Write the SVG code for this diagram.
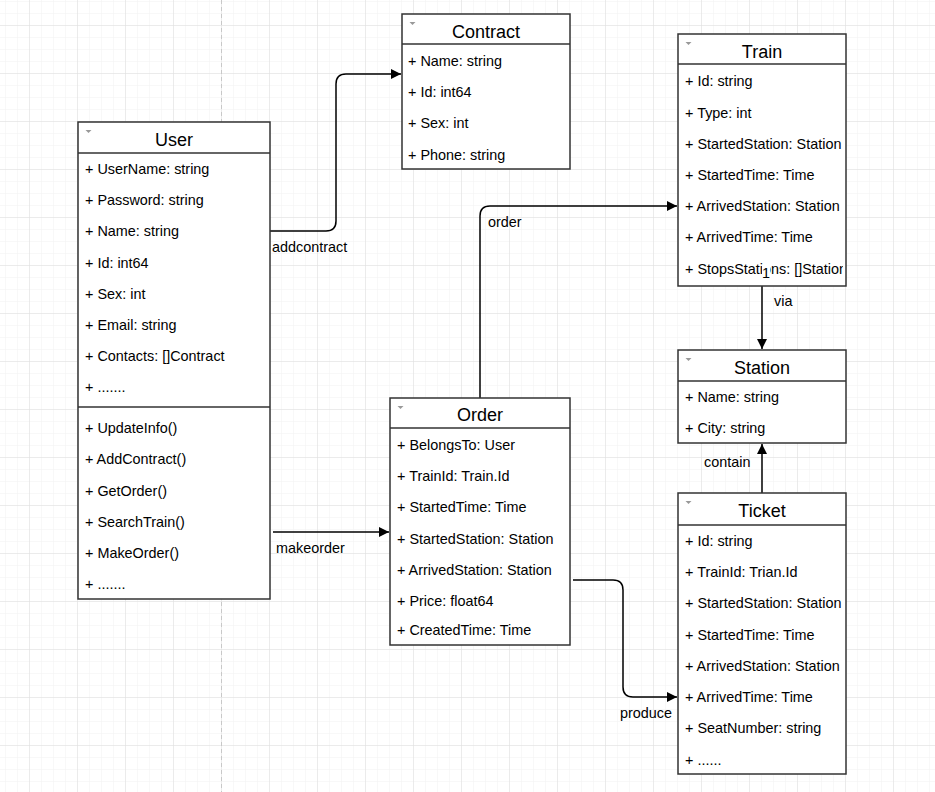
<svg xmlns="http://www.w3.org/2000/svg" width="935" height="792" viewBox="0 0 935 792">
<style>
.box{fill:#fff;stroke:#333;stroke-width:1.5}
.div{stroke:#333;stroke-width:1.5}
.title{font-family:"Liberation Sans",Arial,sans-serif;font-size:18px;fill:#000;text-anchor:middle}
.row{font-family:"Liberation Sans",Arial,sans-serif;font-size:14.4px;fill:#000}
.lbl{font-family:"Liberation Sans",Arial,sans-serif;font-size:14.4px;fill:#000}
.tri{fill:#999}
.edge{fill:none;stroke:#000;stroke-width:1.5}
</style>
<defs>
<pattern id="minor" x="5" y="1" width="12" height="12" patternUnits="userSpaceOnUse">
<path d="M0 0H12M0 0V12" fill="none" stroke="#f1f1f1" stroke-width="1"/>
</pattern>
<pattern id="major" x="29" y="25" width="48" height="48" patternUnits="userSpaceOnUse">
<path d="M0 0H48M0 0V48" fill="none" stroke="#dedede" stroke-width="1"/>
</pattern>
<marker id="arr" viewBox="0 0 10 10" refX="10" refY="5" markerWidth="11" markerHeight="10" markerUnits="userSpaceOnUse" orient="auto">
<path d="M0 0L10 5L0 10z" fill="#000"/>
</marker>
<clipPath id="trainClip"><rect x="678" y="64" width="165" height="222"/></clipPath>
</defs>
<rect width="935" height="792" fill="#fff"/>
<rect width="935" height="792" fill="url(#minor)"/>
<rect width="935" height="792" fill="url(#major)"/>
<line x1="221.5" y1="0" x2="221.5" y2="792" stroke="#c8c8c8" stroke-width="1" stroke-dasharray="4 3"/>

<g id="connectors">
<path class="edge" d="M270 231H326Q336 231 336 221V84Q336 74 346 74H401" marker-end="url(#arr)"/>
<path class="edge" d="M480 398V216Q480 206 490 206H677" marker-end="url(#arr)"/>
<path class="edge" d="M762 286V349" marker-end="url(#arr)"/>
<path class="edge" d="M762 493V444" marker-end="url(#arr)"/>
<path class="edge" d="M273 532H389" marker-end="url(#arr)"/>
<path class="edge" d="M573 580H613Q623 580 623 590V687Q623 697 633 697H677" marker-end="url(#arr)"/>
<text class="lbl" x="272" y="252">addcontract</text>
<text class="lbl" x="488" y="227">order</text>
<text class="lbl" x="774" y="306">via</text>
<text class="lbl" x="704" y="467">contain</text>
<text class="lbl" x="276" y="553">makeorder</text>
<text class="lbl" x="620" y="718">produce</text>
</g>

<g id="user">
<rect class="box" x="78" y="122" width="192" height="477"/>
<line class="div" x1="78" y1="153" x2="270" y2="153"/>
<line class="div" x1="78" y1="407" x2="270" y2="407"/>
<path class="tri" d="M85.5 130H91.5L88.5 133z"/>
<text class="title" x="174" y="146">User</text>
<text class="row" x="85" y="174">+ UserName: string</text>
<text class="row" x="85" y="205">+ Password: string</text>
<text class="row" x="85" y="236">+ Name: string</text>
<text class="row" x="85" y="268">+ Id: int64</text>
<text class="row" x="85" y="299">+ Sex: int</text>
<text class="row" x="85" y="330">+ Email: string</text>
<text class="row" x="85" y="361">+ Contacts: []Contract</text>
<text class="row" x="85" y="392">+ .......</text>
<text class="row" x="85" y="433">+ UpdateInfo()</text>
<text class="row" x="85" y="464">+ AddContract()</text>
<text class="row" x="85" y="496">+ GetOrder()</text>
<text class="row" x="85" y="527">+ SearchTrain()</text>
<text class="row" x="85" y="558">+ MakeOrder()</text>
<text class="row" x="85" y="589">+ .......</text>
</g>

<g id="contract">
<rect class="box" x="402" y="14" width="168" height="155"/>
<line class="div" x1="402" y1="44" x2="570" y2="44"/>
<path class="tri" d="M409.5 22H415.5L412.5 25z"/>
<text class="title" x="486" y="38">Contract</text>
<text class="row" x="408" y="66">+ Name: string</text>
<text class="row" x="408" y="97">+ Id: int64</text>
<text class="row" x="408" y="128">+ Sex: int</text>
<text class="row" x="408" y="160">+ Phone: string</text>
</g>

<g id="train">
<rect class="box" x="678" y="34" width="168" height="252"/>
<line class="div" x1="678" y1="64" x2="846" y2="64"/>
<path class="tri" d="M685.5 42H691.5L688.5 45z"/>
<text class="title" x="762" y="58">Train</text>
<g clip-path="url(#trainClip)">
<text class="row" x="685" y="86">+ Id: string</text>
<text class="row" x="685" y="118">+ Type: int</text>
<text class="row" x="685" y="149">+ StartedStation: Station</text>
<text class="row" x="685" y="180">+ StartedTime: Time</text>
<text class="row" x="685" y="211">+ ArrivedStation: Station</text>
<text class="row" x="685" y="242">+ ArrivedTime: Time</text>
<text class="row" x="685" y="274">+ StopsStations: []Station</text>
</g>
<rect x="762" y="266" width="8" height="13" fill="#fff"/>
<text class="lbl" x="762" y="278">1</text>
</g>

<g id="station">
<rect class="box" x="678" y="350" width="168" height="93"/>
<line class="div" x1="678" y1="381" x2="846" y2="381"/>
<path class="tri" d="M685.5 358H691.5L688.5 361z"/>
<text class="title" x="762" y="374">Station</text>
<text class="row" x="685" y="402">+ Name: string</text>
<text class="row" x="685" y="433">+ City: string</text>
</g>

<g id="order">
<rect class="box" x="390" y="398" width="180" height="247"/>
<line class="div" x1="390" y1="428" x2="570" y2="428"/>
<path class="tri" d="M397.5 406H403.5L400.5 409z"/>
<text class="title" x="480" y="421">Order</text>
<text class="row" x="397" y="450">+ BelongsTo: User</text>
<text class="row" x="397" y="481">+ TrainId: Train.Id</text>
<text class="row" x="397" y="512">+ StartedTime: Time</text>
<text class="row" x="397" y="544">+ StartedStation: Station</text>
<text class="row" x="397" y="575">+ ArrivedStation: Station</text>
<text class="row" x="397" y="606">+ Price: float64</text>
<text class="row" x="397" y="635">+ CreatedTime: Time</text>
</g>

<g id="ticket">
<rect class="box" x="678" y="493" width="168" height="281"/>
<line class="div" x1="678" y1="525" x2="846" y2="525"/>
<path class="tri" d="M685.5 501H691.5L688.5 504z"/>
<text class="title" x="762" y="517">Ticket</text>
<text class="row" x="685" y="546">+ Id: string</text>
<text class="row" x="685" y="577">+ TrainId: Trian.Id</text>
<text class="row" x="685" y="608">+ StartedStation: Station</text>
<text class="row" x="685" y="640">+ StartedTime: Time</text>
<text class="row" x="685" y="671">+ ArrivedStation: Station</text>
<text class="row" x="685" y="702">+ ArrivedTime: Time</text>
<text class="row" x="685" y="733">+ SeatNumber: string</text>
<text class="row" x="685" y="765">+ ......</text>
</g>
</svg>
